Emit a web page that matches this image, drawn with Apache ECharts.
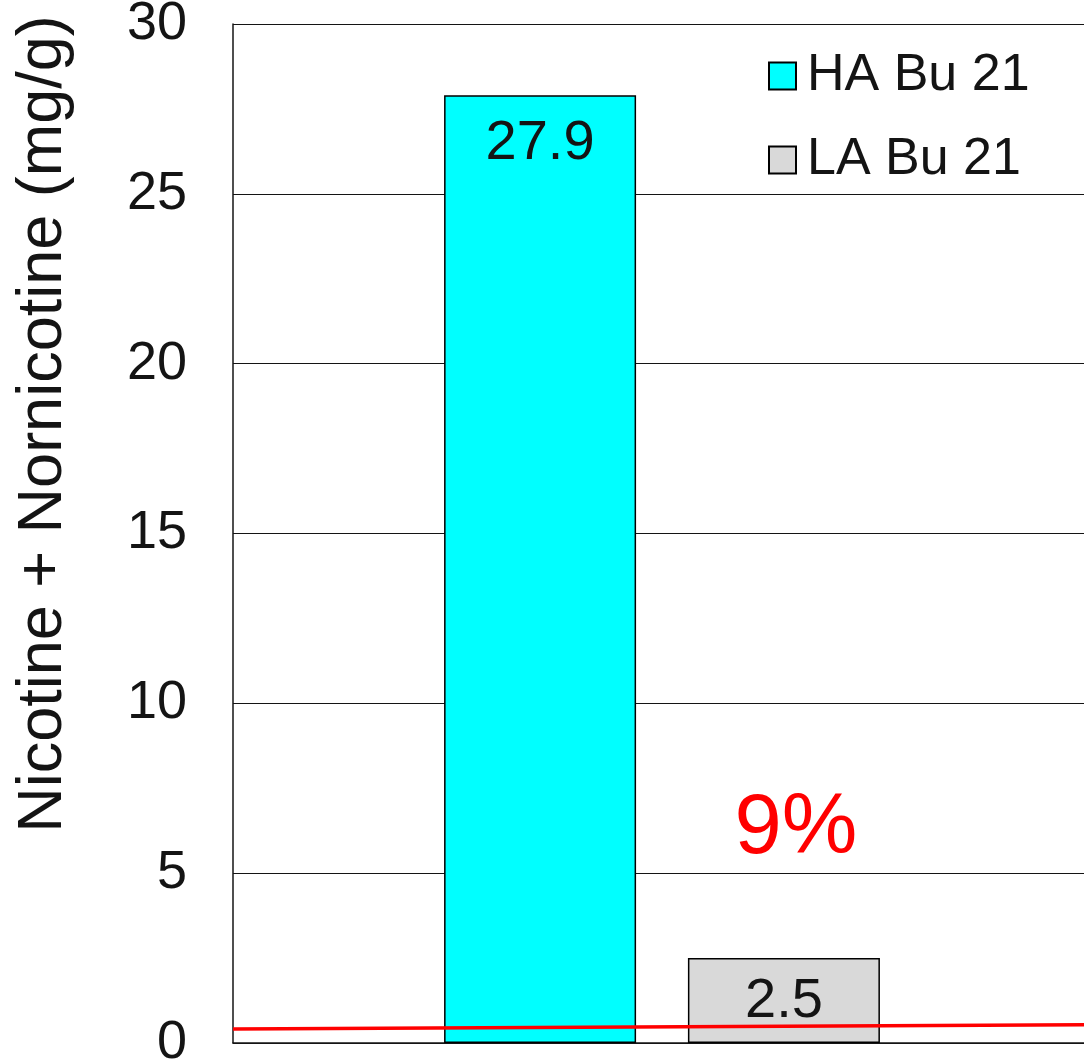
<!DOCTYPE html>
<html>
<head>
<meta charset="utf-8">
<script src="https://cdn.jsdelivr.net/npm/echarts@6/dist/echarts.min.js"></script>
<style>
  html, body { margin: 0; padding: 0; background: #fff; }
  #chart { width: 1084px; height: 1063px; }
</style>
</head>
<body>
<div id="chart"></div>
<script>
// Sample groups and their alkaloid totals (mg/g)
const seriesNames = ['HA Bu 21', 'LA Bu 21'];
const haValues = [27.9];
const laValues = [2.5];
const categories = [''];
// Reference line drawn across the plot (start and end levels)
const refLine = [[0, 0.41], [1, 0.535]];
const yTicks = { min: 0, max: 30, interval: 5 };
const ratioText = '9%';
const yTitle = 'Nicotine + Nornicotine (mg/g)';

const FONT = '"Liberation Sans", Arial, sans-serif';
const INK = '#141414';

const chart = echarts.init(document.getElementById('chart'), null, { renderer: 'canvas' });

chart.setOption({
  animation: false,
  backgroundColor: '#fff',
  grid: { left: 233, right: -7, top: 24, bottom: 20, containLabel: false, outerBoundsMode: 'none' },
  legend: {
    data: seriesNames,
    orient: 'vertical',
    left: 768,
    top: 50,
    padding: 0,
    itemWidth: 27,
    itemHeight: 27,
    itemGap: 32,
    icon: 'rect',
    textStyle: { fontFamily: FONT, fontSize: 52, color: INK, padding: [0, 0, 0, 6] }
  },
  xAxis: [
    {
      type: 'category',
      data: categories,
      axisLine: { show: true, lineStyle: { color: INK, width: 1.5 } },
      axisTick: { show: false },
      axisLabel: { show: false },
      splitLine: { show: false }
    },
    {
      type: 'value',
      min: 0,
      max: 1,
      show: false
    }
  ],
  yAxis: {
    type: 'value',
    min: yTicks.min,
    max: yTicks.max,
    interval: yTicks.interval,
    axisLine: { show: true, lineStyle: { color: INK, width: 1.5 } },
    axisTick: { show: false },
    axisLabel: { fontFamily: FONT, fontSize: 54, color: INK, margin: 46 },
    splitLine: { show: true, lineStyle: { color: INK, width: 1.2 } }
  },
  series: [
    {
      name: seriesNames[0],
      type: 'bar',
      data: haValues,
      barWidth: 192,
      barGap: '27%',
      itemStyle: { color: '#00FFFF', borderColor: '#000', borderWidth: 1.5 },
      label: {
        show: true,
        position: 'insideTop',
        distance: 20,
        fontFamily: FONT,
        fontSize: 56,
        color: INK
      },
      z: 2
    },
    {
      name: seriesNames[1],
      type: 'bar',
      data: laValues,
      barWidth: 192,
      barGap: '27%',
      itemStyle: { color: '#D9D9D9', borderColor: '#000', borderWidth: 1.5 },
      label: {
        show: true,
        position: 'insideTop',
        distance: 15,
        fontFamily: FONT,
        fontSize: 56,
        color: INK
      },
      z: 2
    },
    {
      name: 'ref',
      type: 'line',
      xAxisIndex: 1,
      data: refLine,
      symbol: 'none',
      silent: true,
      lineStyle: { color: '#FF0000', width: 3.5 },
      z: 5
    }
  ],
  graphic: [
    {
      type: 'text',
      x: 44,
      y: 424,
      rotation: Math.PI / 2,
      style: {
        text: yTitle,
        fontFamily: FONT,
        fontSize: 63,
        fill: INK,
        textAlign: 'center',
        textVerticalAlign: 'middle'
      }
    },
    {
      type: 'text',
      x: 796,
      y: 830,
      style: {
        text: ratioText,
        fontFamily: FONT,
        fontSize: 85,
        fill: '#FF0000',
        textAlign: 'center',
        textVerticalAlign: 'middle'
      }
    }
  ]
});
</script>
</body>
</html>
